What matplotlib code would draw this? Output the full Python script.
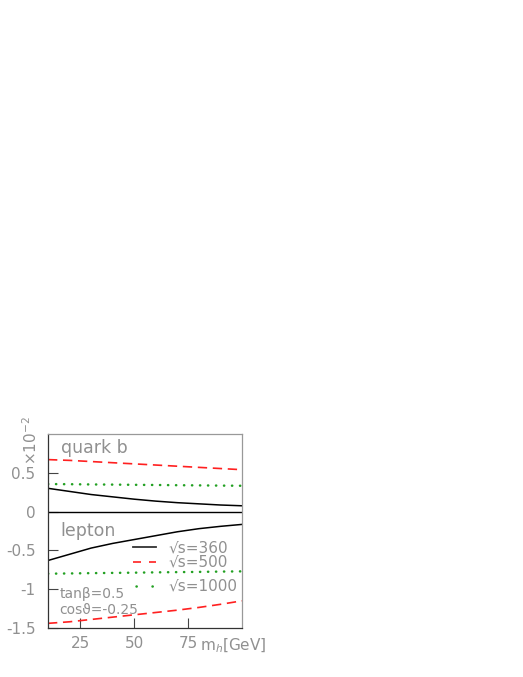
import matplotlib
matplotlib.use("Agg")
import matplotlib.pyplot as plt
from matplotlib.lines import Line2D

# values (units of 10^-2)
mh = [10, 20, 30, 40, 50, 60, 70, 80, 90, 100]
quark_360 = [0.30, 0.26, 0.22, 0.19, 0.16, 0.135, 0.115, 0.10, 0.085, 0.075]
quark_500 = [0.67, 0.66, 0.645, 0.63, 0.615, 0.60, 0.585, 0.57, 0.555, 0.54]
quark_1000 = [0.355, 0.353, 0.350, 0.348, 0.345, 0.343, 0.340, 0.338, 0.335, 0.333]
lepton_360 = [-0.63, -0.55, -0.47, -0.41, -0.36, -0.31, -0.26, -0.22, -0.19, -0.165]
lepton_500 = [-1.44, -1.42, -1.39, -1.36, -1.33, -1.30, -1.27, -1.235, -1.195, -1.15]
lepton_1000 = [-0.80, -0.797, -0.793, -0.790, -0.787, -0.783, -0.780, -0.777, -0.773, -0.77]

legend_labels = ["\u221as=360", "\u221as=500", "\u221as=1000"]
xticks = [25, 50, 75]
yticks = [-1.5, -1, -0.5, 0, 0.5]
ytick_labels = ["-1.5", "-1", "-0.5", "0", "0.5"]

txt = "#909090"
red = "#ff2020"
green = "#22a022"
dash = (5.6, 3.4)
dots = (0, (0.1, 3.1))

fig = plt.figure(figsize=(5.23, 6.77), dpi=100)
ax = fig.add_axes([48 / 523, 49 / 677, 194 / 523, 194 / 677])

ax.plot(mh, quark_360, color="black", lw=1.1)
ax.plot(mh, quark_500, color=red, lw=1.2, dashes=dash)
ax.plot(mh, quark_1000, color=green, lw=1.8, ls=dots, dash_capstyle="round")
ax.plot(mh, lepton_360, color="black", lw=1.1)
ax.plot(mh, lepton_500, color=red, lw=1.2, dashes=dash)
ax.plot(mh, lepton_1000, color=green, lw=1.8, ls=dots, dash_capstyle="round")
ax.axhline(0, color="black", lw=1.0)

ax.set_xlim(10, 100)
ax.set_ylim(-1.5, 1.0)
ax.set_xticks(xticks)
ax.set_yticks(yticks)
ax.set_yticklabels(ytick_labels)
ax.tick_params(direction="in", length=7, width=0.8, colors="#444444",
               labelcolor=txt, labelsize=11, pad=6)
ax.tick_params(axis="y", pad=9)
for side in ["top", "right"]:
    ax.spines[side].set_color("#999999")
for side in ["left", "bottom"]:
    ax.spines[side].set_color("#333333")
for s in ax.spines.values():
    s.set_linewidth(0.9)

ax.text(0.065, 0.975, "quark b", transform=ax.transAxes, color=txt,
        fontsize=12.5, va="top", ha="left")
ax.text(0.065, 0.545, "lepton", transform=ax.transAxes, color=txt,
        fontsize=12.5, va="top", ha="left")
ax.text(0.06, 0.175, "tan\u03b2=0.5", transform=ax.transAxes, color=txt,
        fontsize=10, va="center", ha="left")
ax.text(0.06, 0.095, "cos\u03d1=-0.25", transform=ax.transAxes, color=txt,
        fontsize=10, va="center", ha="left")

# legend drawn by hand to keep the uneven spacing of the original
handles = [
    Line2D([0.44, 0.555], [0.415, 0.415], color="#333333", lw=1.3),
    Line2D([0.44, 0.555], [0.34, 0.34], color=red, lw=1.2, dashes=(4.8, 4.8)),
    Line2D([0.454, 0.545], [0.218, 0.218], color=green, lw=1.8,
           ls=(0, (0.1, 6.3)), dash_capstyle="round"),
]
label_y = [0.415, 0.34, 0.215]
for h, lab, yy in zip(handles, legend_labels, label_y):
    h.set_transform(ax.transAxes)
    ax.add_line(h)
    ax.text(0.62, yy, lab, transform=ax.transAxes, color=txt,
            fontsize=11, va="center", ha="left")

fig.text(200 / 523, 1 - 646 / 677, "m$_{h}$[GeV]", color=txt, fontsize=11,
         va="center", ha="left")
fig.text(31 / 523, 1 - 441 / 677, "\u00d710$^{-2}$", color=txt, fontsize=11,
         rotation=90, va="center", ha="center")

fig.savefig("out.png", dpi=100)
